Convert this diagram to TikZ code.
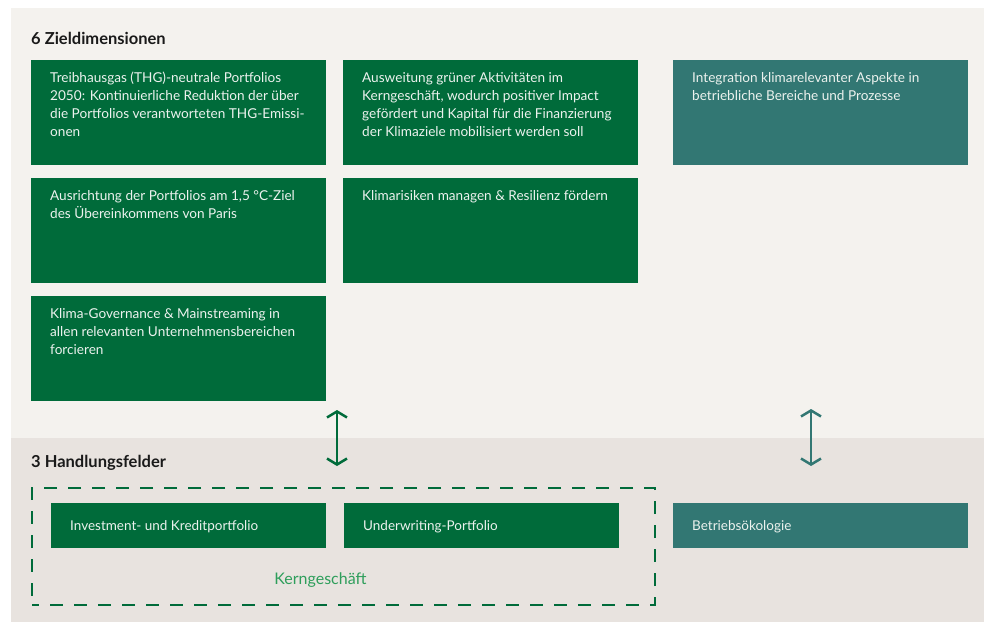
\documentclass[tikz,border=0pt]{standalone}
\usepackage{fontspec}
\setmainfont{Lato}
\usetikzlibrary{arrows.meta,calc}
\definecolor{bgtop}{HTML}{F4F2EE}
\definecolor{bgbot}{HTML}{E8E3DF}
\definecolor{kgreen}{HTML}{006B3A}
\definecolor{kteal}{HTML}{327773}
\definecolor{lgreen}{HTML}{2E9E5B}
\definecolor{txtw}{HTML}{ECF2EE}
\definecolor{ttl}{HTML}{1A1A1A}
\begin{document}
\begin{tikzpicture}[x=1pt,y=-1pt,
  box/.style={rectangle, fill=kgreen, draw=none, inner sep=0pt, minimum width=295pt, minimum height=105pt, anchor=north west},
  tbox/.style={box, fill=kteal},
  sbox/.style={box, minimum height=45pt},
  stbox/.style={sbox, fill=kteal},
  btxt/.style={anchor=north west, inner sep=0pt, align=left, text=txtw, font=\fontsize{13.6}{18}\selectfont},
  stxt/.style={anchor=base west, inner sep=0pt, text=txtw, font=\fontsize{13.5}{18}\selectfont},
  title/.style={anchor=base west, inner sep=0pt, text=ttl, font=\fontsize{16.5}{18}\selectfont\bfseries},
  garrow/.style={draw=kgreen, line width=2.5pt, {Straight Barb[length=6pt,width=20pt]}-{Straight Barb[length=6pt,width=20pt]}},
  tarrow/.style={garrow, draw=kteal},
  dashbox/.style={draw=kgreen, line width=2.3pt, dash pattern=on 13pt off 11pt, dash phase=6pt, fill=none, inner sep=0pt, anchor=north west, minimum width=623pt, minimum height=117pt}
]
\useasboundingbox (0,0) rectangle (984,623);
\fill[white] (0,0) rectangle (984,623);
\fill[bgtop] (11,8) rectangle (984,438);
\fill[bgbot] (11,438) rectangle (984,622);

% titles
\node[title] (h1) at (31,45) {6 Zieldimensionen};
\node[title] (h2) at (31,467) {3 Handlungsfelder};

% goal boxes
\node[box]  (b1) at (31,60) {};
\node[box]  (b2) at (343,60) {};
\node[tbox] (b3) at (673,60) {};
\node[box]  (b4) at (31,178) {};
\node[box]  (b5) at (343,178) {};
\node[box]  (b6) at (31,296) {};

\node[btxt] (t1) at ($(b1.north west)+(19,9)$) {\vrule height 13pt width 0pt Treibhausgas (THG)-neutrale Portfolios\\2050: Kontinuierliche Reduktion der über\\die Portfolios verantworteten THG-Emissi-\\onen};
\node[btxt] (t2) at ($(b2.north west)+(19,9)$) {\vrule height 13pt width 0pt Ausweitung grüner Aktivitäten im\\Kerngeschäft, wodurch positiver Impact\\gefördert und Kapital für die Finanzierung\\der Klimaziele mobilisiert werden soll};
\node[btxt] (t3) at ($(b3.north west)+(19,9)$) {\vrule height 13pt width 0pt Integration klimarelevanter Aspekte in\\betriebliche Bereiche und Prozesse};
\node[btxt] (t4) at ($(b4.north west)+(19,9)$) {\vrule height 13pt width 0pt Ausrichtung der Portfolios am 1,5 °C-Ziel\\des Übereinkommens von Paris};
\node[btxt] (t5) at ($(b5.north west)+(19,9)$) {\vrule height 13pt width 0pt Klimarisiken managen \& Resilienz fördern};
\node[btxt] (t6) at ($(b6.north west)+(19,9)$) {\vrule height 13pt width 0pt Klima-Governance \& Mainstreaming in\\allen relevanten Unternehmensbereichen\\forcieren};

% action fields
\node[dashbox] (kern) at (31,487) {};
\node[sbox, minimum width=275pt] (s1) at (51,503) {};
\node[sbox, minimum width=275pt] (s2) at (344,503) {};
\node[stbox] (s3) at (673,503) {};
\node[stxt] (u1) at ($(s1.west)+(19,5)$) {Investment- und Kreditportfolio};
\node[stxt] (u2) at ($(s2.west)+(19,5)$) {Underwriting-Portfolio};
\node[stxt] (u3) at ($(s3.west)+(19,5)$) {Betriebsökologie};
\node[anchor=base, inner sep=0pt, text=lgreen, font=\fontsize{16}{18}\selectfont] (kg) at (320.5,584) {Kerngeschäft};

% arrows
\coordinate (a1t) at (337,410);
\coordinate (a1b) at (337,466);
\coordinate (a2t) at (811,409);
\coordinate (a2b) at (811,466);
\draw[garrow] (a1t) -- (a1b);
\draw[tarrow] (a2t) -- (a2b);
\end{tikzpicture}
\end{document}
